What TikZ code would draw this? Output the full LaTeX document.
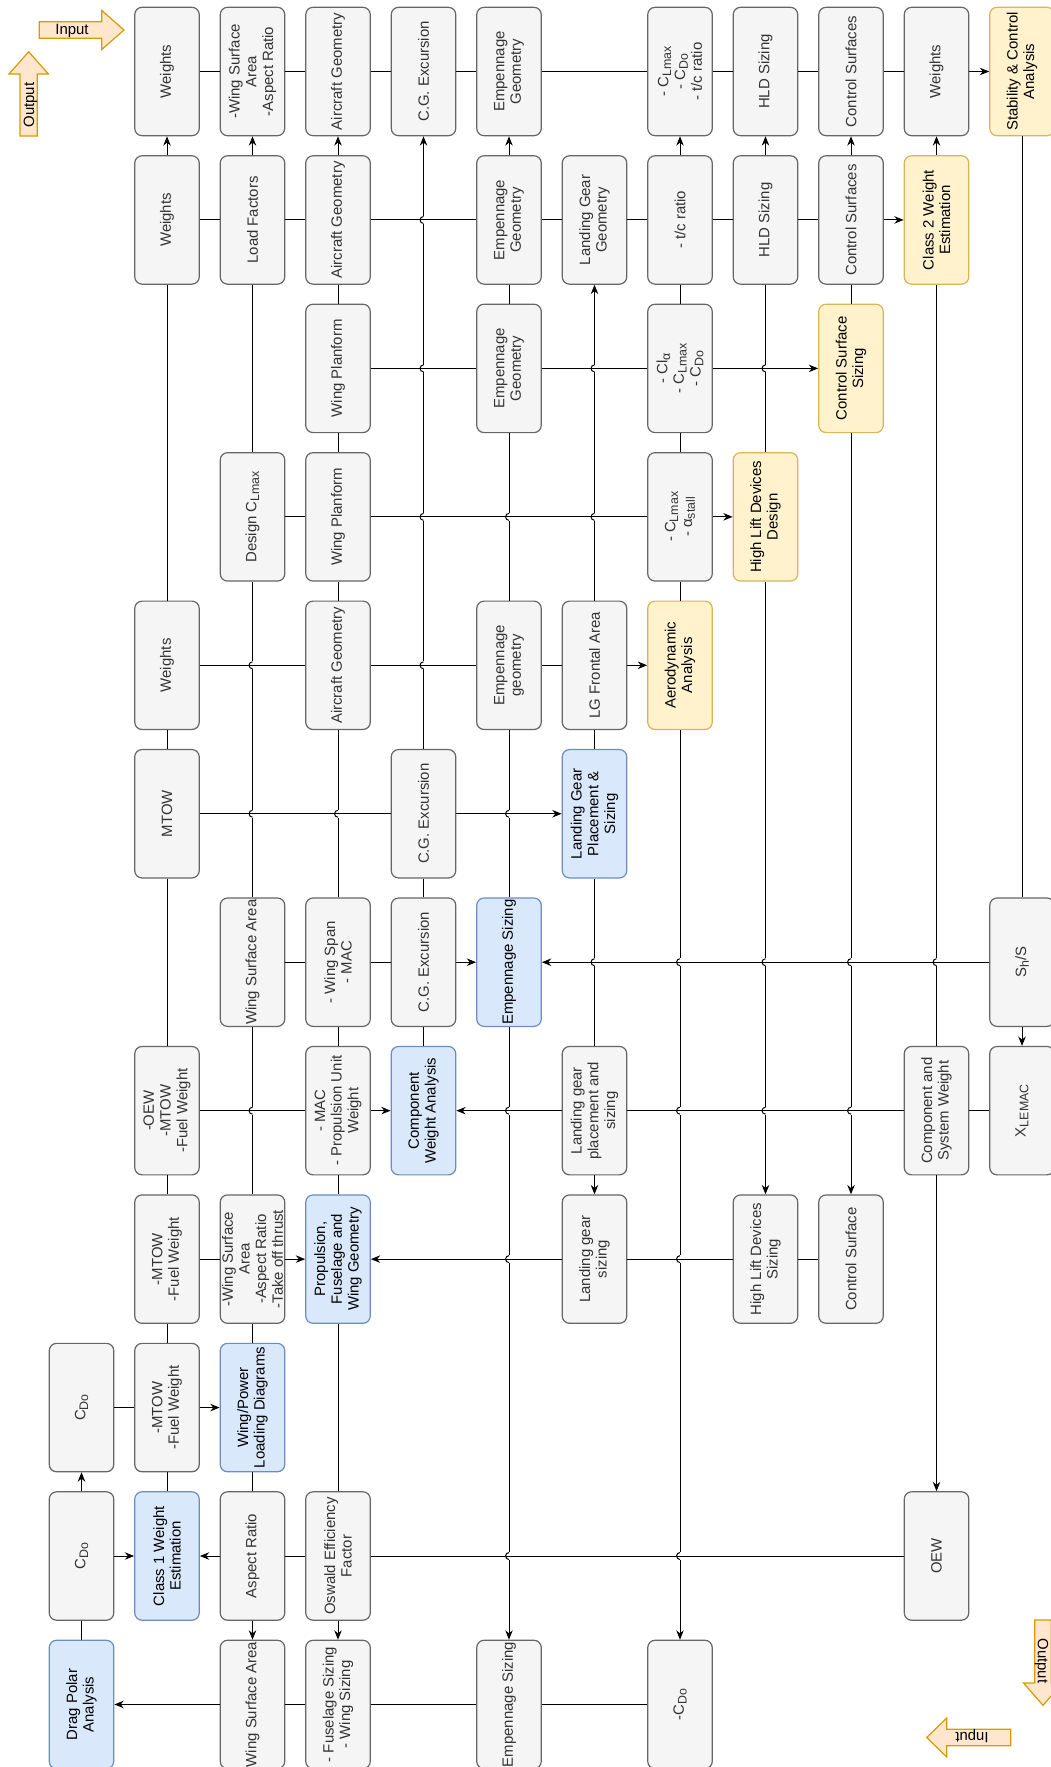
\documentclass[tikz,border=0pt]{standalone}
\usepackage{fontspec}
\setmainfont{Liberation Sans}
\usetikzlibrary{arrows.meta}

\definecolor{cellfill}{HTML}{F5F5F5}
\definecolor{celldraw}{HTML}{666666}
\definecolor{celltext}{HTML}{333333}
\definecolor{bluefill}{HTML}{DAE8FC}
\definecolor{bluedraw}{HTML}{6C8EBF}
\definecolor{yellowfill}{HTML}{FFF2CC}
\definecolor{yellowdraw}{HTML}{D6B656}
\definecolor{legfill}{HTML}{FFE6CC}
\definecolor{legdraw}{HTML}{D79B00}

% subscript as the drawing shows it (a bit smaller, lowered)
\newcommand{\lowtxt}[1]{\raisebox{-0.35ex}{\fontsize{9.3}{9.3}\selectfont #1}}

\begin{document}
\begin{tikzpicture}[x=0.75pt, y=-0.75pt,
    font=\fontsize{11.2}{12.5}\selectfont,
    >={Stealth[length=7pt, width=5.6pt]},
    box/.style={
        draw,
        rounded corners=5.5pt,
        rotate=90,
        minimum width=96.3pt,
        minimum height=48.4pt,
        inner sep=0.5pt,
        align=center,
        line width=0.9pt
    },
    databox/.style={box, fill=cellfill, draw=celldraw, text=celltext},
    blueblock/.style={box, fill=bluefill, draw=bluedraw},
    yellowblock/.style={box, fill=yellowfill, draw=yellowdraw},
    link/.style={line width=0.75pt},
    flow/.style={->, line width=0.75pt},
    legendarrow/.style={fill=legfill, draw=legdraw, line width=0.9pt},
    legendtxt/.style={inner sep=0pt},
    hop/.pic={
        \fill[white] (-1.2pt,-2.9pt) rectangle (1.2pt,2.9pt);
        \draw[link] (0,2.6pt) arc[start angle=90, end angle=270, radius=2.6pt];
    }
]

\useasboundingbox (0,0) rectangle (1050,1767);

% grid: x = column of the matrix, y = row (top to bottom)
\begin{scope}[shift={(-4,-76.95)}, x=64.125pt, y=-111.3375pt]

% =====================
% Analysis blocks (diagonal)
% =====================

\node[blueblock] (dragpolar) at (1,12) {Drag Polar\\Analysis};
\node[blueblock] (class1) at (2,11) {Class 1 Weight\\Estimation};
\node[blueblock] (wpload) at (3,10) {Wing/Power\\Loading Diagrams};
\node[blueblock] (geom) at (4,9) {Propulsion,\\Fuselage and\\Wing Geometry};
\node[blueblock] (compwt) at (5,8) {Component\\Weight Analysis};
\node[blueblock] (empsize) at (6,7) {Empennage Sizing};
\node[blueblock] (lgplace) at (7,6) {Landing Gear\\Placement \&\\Sizing};
\node[yellowblock] (aero) at (8,5) {Aerodynamic\\Analysis};
\node[yellowblock] (hldes) at (9,4) {High Lift Devices\\Design};
\node[yellowblock] (cssize) at (10,3) {Control Surface\\Sizing};
\node[yellowblock] (class2) at (11,2) {Class 2 Weight\\Estimation};
\node[yellowblock] (stab) at (12,1) {Stability \& Control\\Analysis};

% =====================
% Data boxes (d<column>-<row>)
% =====================

\node[databox] (d1-10) at (1,10) {C\lowtxt{Do}};
\node[databox] (d1-11) at (1,11) {C\lowtxt{Do}};

\node[databox] (d2-1) at (2,1) {Weights};
\node[databox] (d2-2) at (2,2) {Weights};
\node[databox] (d2-5) at (2,5) {Weights};
\node[databox] (d2-6) at (2,6) {MTOW};
\node[databox] (d2-8) at (2,8) {-OEW\\-MTOW\\-Fuel Weight};
\node[databox] (d2-9) at (2,9) {-MTOW\\-Fuel Weight};
\node[databox] (d2-10) at (2,10) {-MTOW\\-Fuel Weight};

\node[databox] (d3-1) at (3,1) {-Wing Surface\\Area\\-Aspect Ratio};
\node[databox] (d3-2) at (3,2) {Load Factors};
\node[databox] (d3-4) at (3,4) {Design C\lowtxt{Lmax}};
\node[databox] (d3-7) at (3,7) {Wing Surface Area};
\node[databox] (d3-9) at (3,9) {-Wing Surface\\Area\\-Aspect Ratio\\-Take off thrust};
\node[databox] (d3-11) at (3,11) {Aspect Ratio};
\node[databox] (d3-12) at (3,12) {Wing Surface Area};

\node[databox] (d4-1) at (4,1) {Aircraft Geometry};
\node[databox] (d4-2) at (4,2) {Aircraft Geometry};
\node[databox] (d4-3) at (4,3) {Wing Planform};
\node[databox] (d4-4) at (4,4) {Wing Planform};
\node[databox] (d4-5) at (4,5) {Aircraft Geometry};
\node[databox] (d4-7) at (4,7) {- Wing Span\\- MAC};
\node[databox] (d4-8) at (4,8) {- MAC\\- Propulsion Unit\\Weight};
\node[databox] (d4-11) at (4,11) {Oswald Efficiency\\Factor};
\node[databox] (d4-12) at (4,12) {- Fuselage Sizing\\- Wing Sizing};

\node[databox] (d5-1) at (5,1) {C.G. Excursion};
\node[databox] (d5-6) at (5,6) {C.G. Excursion};
\node[databox] (d5-7) at (5,7) {C.G. Excursion};

\node[databox] (d6-1) at (6,1) {Empennage\\Geometry};
\node[databox] (d6-2) at (6,2) {Empennage\\Geometry};
\node[databox] (d6-3) at (6,3) {Empennage\\Geometry};
\node[databox] (d6-5) at (6,5) {Empennage\\geometry};
\node[databox] (d6-12) at (6,12) {Empennage Sizing};

\node[databox] (d7-2) at (7,2) {Landing Gear\\Geometry};
\node[databox] (d7-5) at (7,5) {LG Frontal Area};
\node[databox] (d7-8) at (7,8) {Landing gear\\placement and\\sizing};
\node[databox] (d7-9) at (7,9) {Landing gear\\sizing};

\node[databox] (d8-1) at (8,1) {- C\lowtxt{Lmax}\\- C\lowtxt{Do}\\- t/c ratio};
\node[databox] (d8-2) at (8,2) {- t/c ratio};
\node[databox] (d8-3) at (8,3) {- Cl\lowtxt{α}\\- C\lowtxt{Lmax}\\- C\lowtxt{Do}};
\node[databox] (d8-4) at (8,4) {- C\lowtxt{Lmax}\\- α\lowtxt{stall}};
\node[databox] (d8-12) at (8,12) {-C\lowtxt{Do}};

\node[databox] (d9-1) at (9,1) {HLD Sizing};
\node[databox] (d9-2) at (9,2) {HLD Sizing};
\node[databox] (d9-9) at (9,9) {High Lift Devices\\Sizing};

\node[databox] (d10-1) at (10,1) {Control Surfaces};
\node[databox] (d10-2) at (10,2) {Control Surfaces};
\node[databox] (d10-9) at (10,9) {Control Surface};

\node[databox] (d11-1) at (11,1) {Weights};
\node[databox] (d11-8) at (11,8) {Component and\\System Weight};
\node[databox] (d11-11) at (11,11) {OEW};

\node[databox] (d12-7) at (12,7) {S\lowtxt{h}/S};
\node[databox] (d12-8) at (12,8) {X\lowtxt{LEMAC}};

% =====================
% Vertical connectors
% =====================

\draw[flow] (dragpolar) -- (d1-11) -- (d1-10);
\draw[flow] (class1) -- (d2-10) -- (d2-9) -- (d2-8) -- (d2-6) -- (d2-5) -- (d2-2) -- (d2-1);
\draw[flow] (d3-11) -- (d3-12);
\draw[flow] (d3-11) -- (wpload) -- (d3-9) -- (d3-7) -- (d3-4) -- (d3-2) -- (d3-1);
\draw[flow] (d4-11) -- (d4-12);
\draw[flow] (d4-11) -- (geom) -- (d4-8) -- (d4-7) -- (d4-5) -- (d4-4) -- (d4-3) -- (d4-2) -- (d4-1);
\draw[flow] (compwt) -- (d5-7) -- (d5-6) -- (d5-1);
\draw[flow] (empsize) -- (d6-12);
\draw[flow] (empsize) -- (d6-5) -- (d6-3) -- (d6-2) -- (d6-1);
\draw[flow] (d7-8) -- (d7-9);
\draw[flow] (d7-8) -- (lgplace) -- (d7-5) -- (d7-2);
\draw[flow] (aero) -- (d8-12);
\draw[flow] (aero) -- (d8-4) -- (d8-3) -- (d8-2) -- (d8-1);
\draw[flow] (hldes) -- (d9-9);
\draw[flow] (hldes) -- (d9-2) -- (d9-1);
\draw[flow] (cssize) -- (d10-9);
\draw[flow] (cssize) -- (d10-2) -- (d10-1);
\draw[flow] (d11-8) -- (d11-11);
\draw[flow] (d11-8) -- (class2) -- (d11-1);
\draw[flow] (d12-7) -- (d12-8);
\draw[link] (d12-7) -- (stab);

% line jumps where vertical lines cross
\pic at (3,5) {hop}; \pic at (3,6) {hop}; \pic at (3,8) {hop};
\pic at (4,6) {hop};
\pic at (5,2) {hop}; \pic at (5,3) {hop}; \pic at (5,4) {hop}; \pic at (5,5) {hop};
\pic at (6,4) {hop}; \pic at (6,6) {hop}; \pic at (6,8) {hop}; \pic at (6,9) {hop}; \pic at (6,11) {hop};
\pic at (7,3) {hop}; \pic at (7,4) {hop}; \pic at (7,7) {hop};
\pic at (8,7) {hop}; \pic at (8,8) {hop}; \pic at (8,9) {hop}; \pic at (8,11) {hop};
\pic at (9,3) {hop}; \pic at (9,7) {hop}; \pic at (9,8) {hop};
\pic at (10,7) {hop}; \pic at (10,8) {hop};
\pic at (11,7) {hop};

% =====================
% Horizontal connectors
% =====================

\draw[flow] (d2-1) -- (d3-1) -- (d4-1) -- (d5-1) -- (d6-1) -- (d8-1) -- (d9-1) -- (d10-1) -- (d11-1) -- (stab);
\draw[flow] (d2-2) -- (d3-2) -- (d4-2) -- (d6-2) -- (d7-2) -- (d8-2) -- (d9-2) -- (d10-2) -- (class2);
\draw[flow] (d4-3) -- (d6-3) -- (d8-3) -- (cssize);
\draw[flow] (d3-4) -- (d4-4) -- (d8-4) -- (hldes);
\draw[flow] (d2-5) -- (d4-5) -- (d6-5) -- (d7-5) -- (aero);
\draw[flow] (d2-6) -- (d5-6) -- (lgplace);
\draw[flow] (d3-7) -- (d4-7) -- (d5-7) -- (empsize);
\draw[flow] (d12-7) -- (empsize);
\draw[flow] (d2-8) -- (d4-8) -- (compwt);
\draw[flow] (d12-8) -- (d11-8) -- (d7-8) -- (compwt);
\draw[flow] (d2-9) -- (d3-9) -- (geom);
\draw[flow] (d10-9) -- (d9-9) -- (d7-9) -- (geom);
\draw[flow] (d1-10) -- (d2-10) -- (wpload);
\draw[flow] (d1-11) -- (class1);
\draw[flow] (d11-11) -- (d4-11) -- (d3-11) -- (class1);
\draw[flow] (d8-12) -- (d6-12) -- (d4-12) -- (d3-12) -- (dragpolar);

\end{scope}

% =====================
% Legend arrows
% =====================

\draw[legendarrow] (39.3,21.7) -- (101.7,21.7) -- (101.7,10.4) -- (124,30) -- (101.7,49.6) -- (101.7,38.3) -- (39.3,38.3) -- cycle;
\node[legendtxt] (inlbl) at (72,31) {Input};

\draw[legendarrow] (20,136) -- (20,74) -- (9,74) -- (28.7,51.7) -- (48.4,74) -- (37.3,74) -- (37.3,136) -- cycle;
\node[legendtxt, rotate=90] (outlbl) at (30.5,105) {Output};

\draw[legendarrow] (1010.7,1729.2) -- (946.7,1729.2) -- (946.7,1718) -- (926.7,1737.5) -- (946.7,1757) -- (946.7,1745.8) -- (1010.7,1745.8) -- cycle;
\node[legendtxt, rotate=180] (inlbl2) at (972,1736) {Input};

\draw[legendarrow] (1034.7,1620) -- (1034.7,1683) -- (1023.5,1683) -- (1043,1705.3) -- (1062.5,1683) -- (1051.3,1683) -- (1051.3,1620) -- cycle;
\node[legendtxt, rotate=-90] (outlbl2) at (1041.5,1661) {Output};

\end{tikzpicture}
\end{document}
